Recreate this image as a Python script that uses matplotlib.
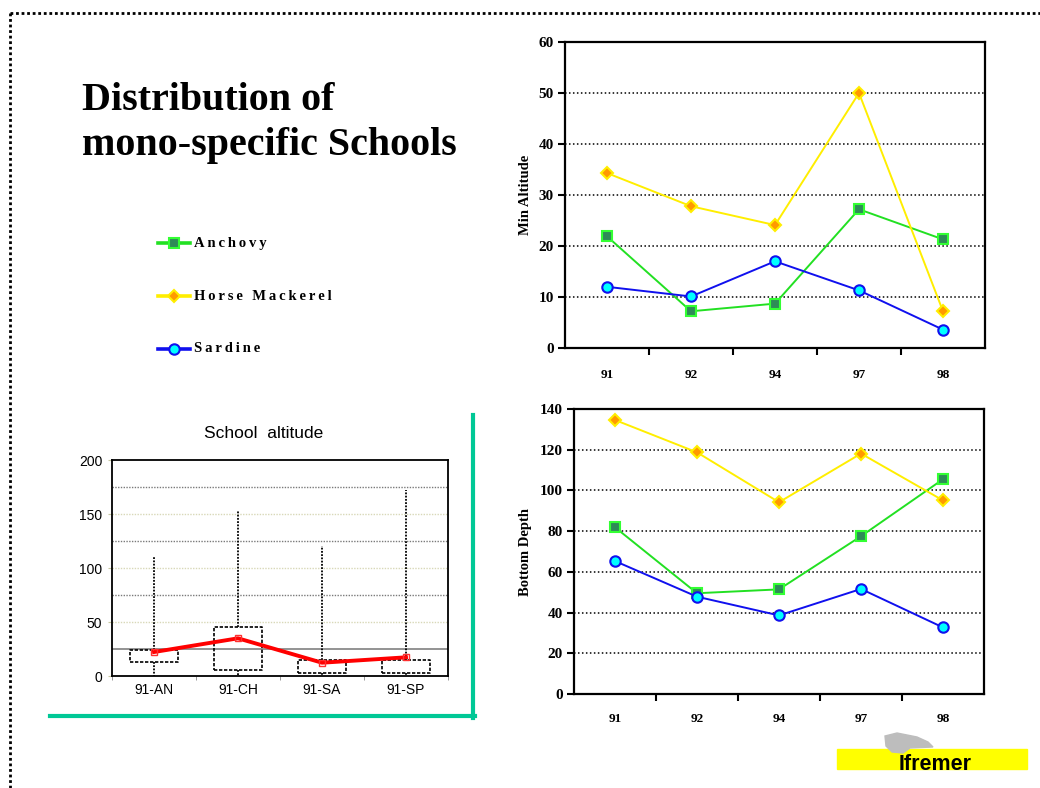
import numpy as np
import matplotlib
matplotlib.use("Agg")
import matplotlib.pyplot as plt
from matplotlib.lines import Line2D
from matplotlib.patches import Rectangle, Polygon

# survey years and per-species school values
years = ['91', '92', '94', '97', '98']
anchovy_alt = [21.9, 7.2, 8.7, 27.2, 21.3]
mackerel_alt = [34.3, 27.8, 24.1, 50.0, 7.2]
sardine_alt = [12.0, 10.1, 17.0, 11.3, 3.6]
anchovy_depth = [81.9, 49.5, 51.4, 77.5, 105.5]
mackerel_depth = [134.6, 118.7, 94.2, 118.1, 95.1]
sardine_depth = [65.3, 47.8, 38.6, 51.6, 32.7]

# school altitude summary for the 1991 survey
groups = ['91-AN', '91-CH', '91-SA', '91-SP']
q1 = [13.3, 5.6, 2.5, 2.5]
q3 = [24.1, 45.7, 14.8, 14.8]
whis_lo = [0, 0, 0, 0]
whis_hi = [111.4, 152.8, 120.4, 172.2]
means = [22.2, 34.9, 12.3, 17.3]

species = ['Anchovy', 'Horse Mackerel', 'Sardine']
styles = {
    'Anchovy': dict(color='#22e022', marker='s', mfc='#2e8b57', mec='#33ff33', ms=7),
    'Horse Mackerel': dict(color='#ffee00', marker='D', mfc='#ff9900', mec='#ffee00', ms=6.5),
    'Sardine': dict(color='#1010ee', marker='o', mfc='#00ffff', mec='#1010ee', ms=7.5),
}

W, H = 1040, 788
fig = plt.figure(figsize=(W / 100, H / 100), dpi=100)
serif = ['Liberation Serif', 'DejaVu Serif']
sans = ['Liberation Sans', 'DejaVu Sans']


def fx(px):
    return px / W


def fy(py):
    return 1 - py / H


# dotted slide border
fig.add_artist(Line2D([fx(10), 1.0], [fy(13), fy(13)], color='black', lw=2,
                      linestyle=(0, (1, 1)), transform=fig.transFigure))
fig.add_artist(Line2D([fx(10), fx(10)], [fy(13), 0.0], color='black', lw=2,
                      linestyle=(0, (1, 1)), transform=fig.transFigure))

# heading
fig.text(fx(82), fy(110), 'Distribution of', fontsize=28.8, fontweight='bold',
         family=serif, va='baseline')
fig.text(fx(82), fy(155), 'mono-specific Schools', fontsize=28.8, fontweight='bold',
         family=serif, va='baseline')

# species key
key_y = [243, 296, 349]
for name, ky in zip(species, key_y):
    st = styles[name]
    fig.add_artist(Line2D([fx(158), fx(190)], [fy(ky), fy(ky)], color=st['color'],
                          lw=2.6, transform=fig.transFigure))
    fig.add_artist(Line2D([fx(174)], [fy(ky)], marker=st['marker'], mfc=st['mfc'],
                          mec=st['mec'], ms=st['ms'], mew=1.5, transform=fig.transFigure))
    fig.text(fx(194), fy(ky), '\u2009'.join(name), fontsize=10.5, fontweight='bold',
             family=serif, va='center')


def line_panel(rect, series, ymax, ystep, ylabel, label_x, pad):
    ax = fig.add_axes(rect)
    x = np.arange(len(years))
    for name, vals in zip(species, series):
        st = styles[name]
        ax.plot(x, vals, color=st['color'], lw=1.4, marker=st['marker'], mfc=st['mfc'],
                mec=st['mec'], ms=st['ms'], mew=1.5, zorder=3)
    ax.set_xlim(-0.5, len(years) - 0.5)
    ax.set_ylim(0, ymax)
    ax.set_yticks(np.arange(0, ymax + 1, ystep))
    ax.set_xticks(x)
    ax.set_xticklabels(years)
    ax.set_xticks(np.arange(0.5, len(years) - 1, 1.0), minor=True)
    ax.tick_params(axis='x', which='major', length=0, pad=pad)
    ax.tick_params(axis='x', which='minor', length=5, width=1.5, direction='out')
    ax.tick_params(axis='y', length=5, width=1.5, direction='out', pad=3)
    for lab in ax.get_xticklabels():
        lab.set_fontfamily(serif)
        lab.set_fontweight('bold')
        lab.set_fontsize(9.5)
    for lab in ax.get_yticklabels():
        lab.set_fontfamily(serif)
        lab.set_fontweight('bold')
        lab.set_fontsize(11)
    ax.yaxis.grid(True, color='black', lw=1.1, linestyle=(0, (1, 1.6)))
    ax.set_axisbelow(True)
    for sp in ax.spines.values():
        sp.set_linewidth(1.6)
    ax.set_ylabel(ylabel, fontsize=10.5, fontweight='bold', family=serif)
    ax.yaxis.set_label_coords(label_x, 0.5)
    return ax


line_panel([fx(565), fy(348), fx(985) - fx(565), fy(42) - fy(348)],
           [anchovy_alt, mackerel_alt, sardine_alt], 60, 10, 'Min Altitude', -0.079, 15)
line_panel([fx(574), fy(694), fx(984) - fx(574), fy(409) - fy(694)],
           [anchovy_depth, mackerel_depth, sardine_depth], 140, 20, 'Bottom Depth', -0.102, 14)

# box plot of school altitude
bx = fig.add_axes([fx(112), fy(676), fx(448) - fx(112), fy(460) - fy(676)])
stats = []
for g, a, b, lo, hi, m in zip(groups, q1, q3, whis_lo, whis_hi, means):
    stats.append(dict(label=g, q1=a, q3=b, med=m, whislo=lo, whishi=hi, mean=m, fliers=[]))
pos = np.arange(len(groups))
bx.bxp(stats, positions=pos, widths=0.56, showcaps=False, showfliers=False,
       boxprops=dict(color='black', lw=1.2, linestyle=(0, (2, 1))),
       whiskerprops=dict(color='black', lw=1.3, linestyle=(0, (1, 0.8))),
       medianprops=dict(visible=False))
bx.plot(pos, means, color='#ff0000', lw=2.8, marker='s', ms=4, mfc='none',
        mec='#ff3030', mew=1, zorder=4)
for gy in [50, 100, 150]:
    bx.axhline(gy, color='#d8d8b8', lw=1, linestyle=(0, (1, 1)), zorder=0)
for gy in [75, 125, 175]:
    bx.axhline(gy, color='#7a7a7a', lw=1, linestyle=(0, (1, 1)), zorder=0)
bx.axhline(25, color='#8a8a8a', lw=1.3, zorder=0)
bx.set_xlim(-0.5, len(groups) - 0.5)
bx.set_ylim(0, 200)
bx.set_yticks([0, 50, 100, 150, 200])
bx.set_xticks(pos)
bx.set_xticklabels(groups)
bx.set_xticks(np.arange(-0.5, len(groups), 1.0), minor=True)
bx.tick_params(axis='x', which='major', length=0, pad=5, labelsize=10)
bx.tick_params(axis='x', which='minor', length=3, color='#888888')
bx.tick_params(axis='y', length=3, color='#c8c8a0', labelsize=10, pad=4)
for lab in bx.get_xticklabels() + bx.get_yticklabels():
    lab.set_fontfamily(sans)
for sp in bx.spines.values():
    sp.set_linewidth(1.3)
fig.text(fx(264), fy(433), 'School  altitude', fontsize=12.5, family=sans,
         ha='center', va='center')

# green frame around the box plot
green = '#00c896'
fig.add_artist(Line2D([fx(473), fx(473)], [fy(415), fy(718)], color=green, lw=3,
                      transform=fig.transFigure))
fig.add_artist(Line2D([fx(50), fx(475)], [fy(716), fy(716)], color=green, lw=3,
                      transform=fig.transFigure))

# institute logo
fig.add_artist(Rectangle((fx(837), fy(769)), fx(1027) - fx(837), fy(749) - fy(769),
                         color='#ffff00', transform=fig.transFigure, zorder=1))
fish = [(885, 736), (897, 733), (917, 737), (928, 742), (933, 747), (910, 748),
        (903, 753), (892, 752), (886, 746)]
fig.add_artist(Polygon([(fx(px), fy(py)) for px, py in fish], closed=True,
                       color='#bdbdbd', transform=fig.transFigure, zorder=2))
fig.text(fx(899), fy(770), 'Ifremer', fontsize=15.5, fontweight='bold', family=sans,
         va='baseline', ha='left', zorder=3)

fig.savefig('out.png', dpi=100)
